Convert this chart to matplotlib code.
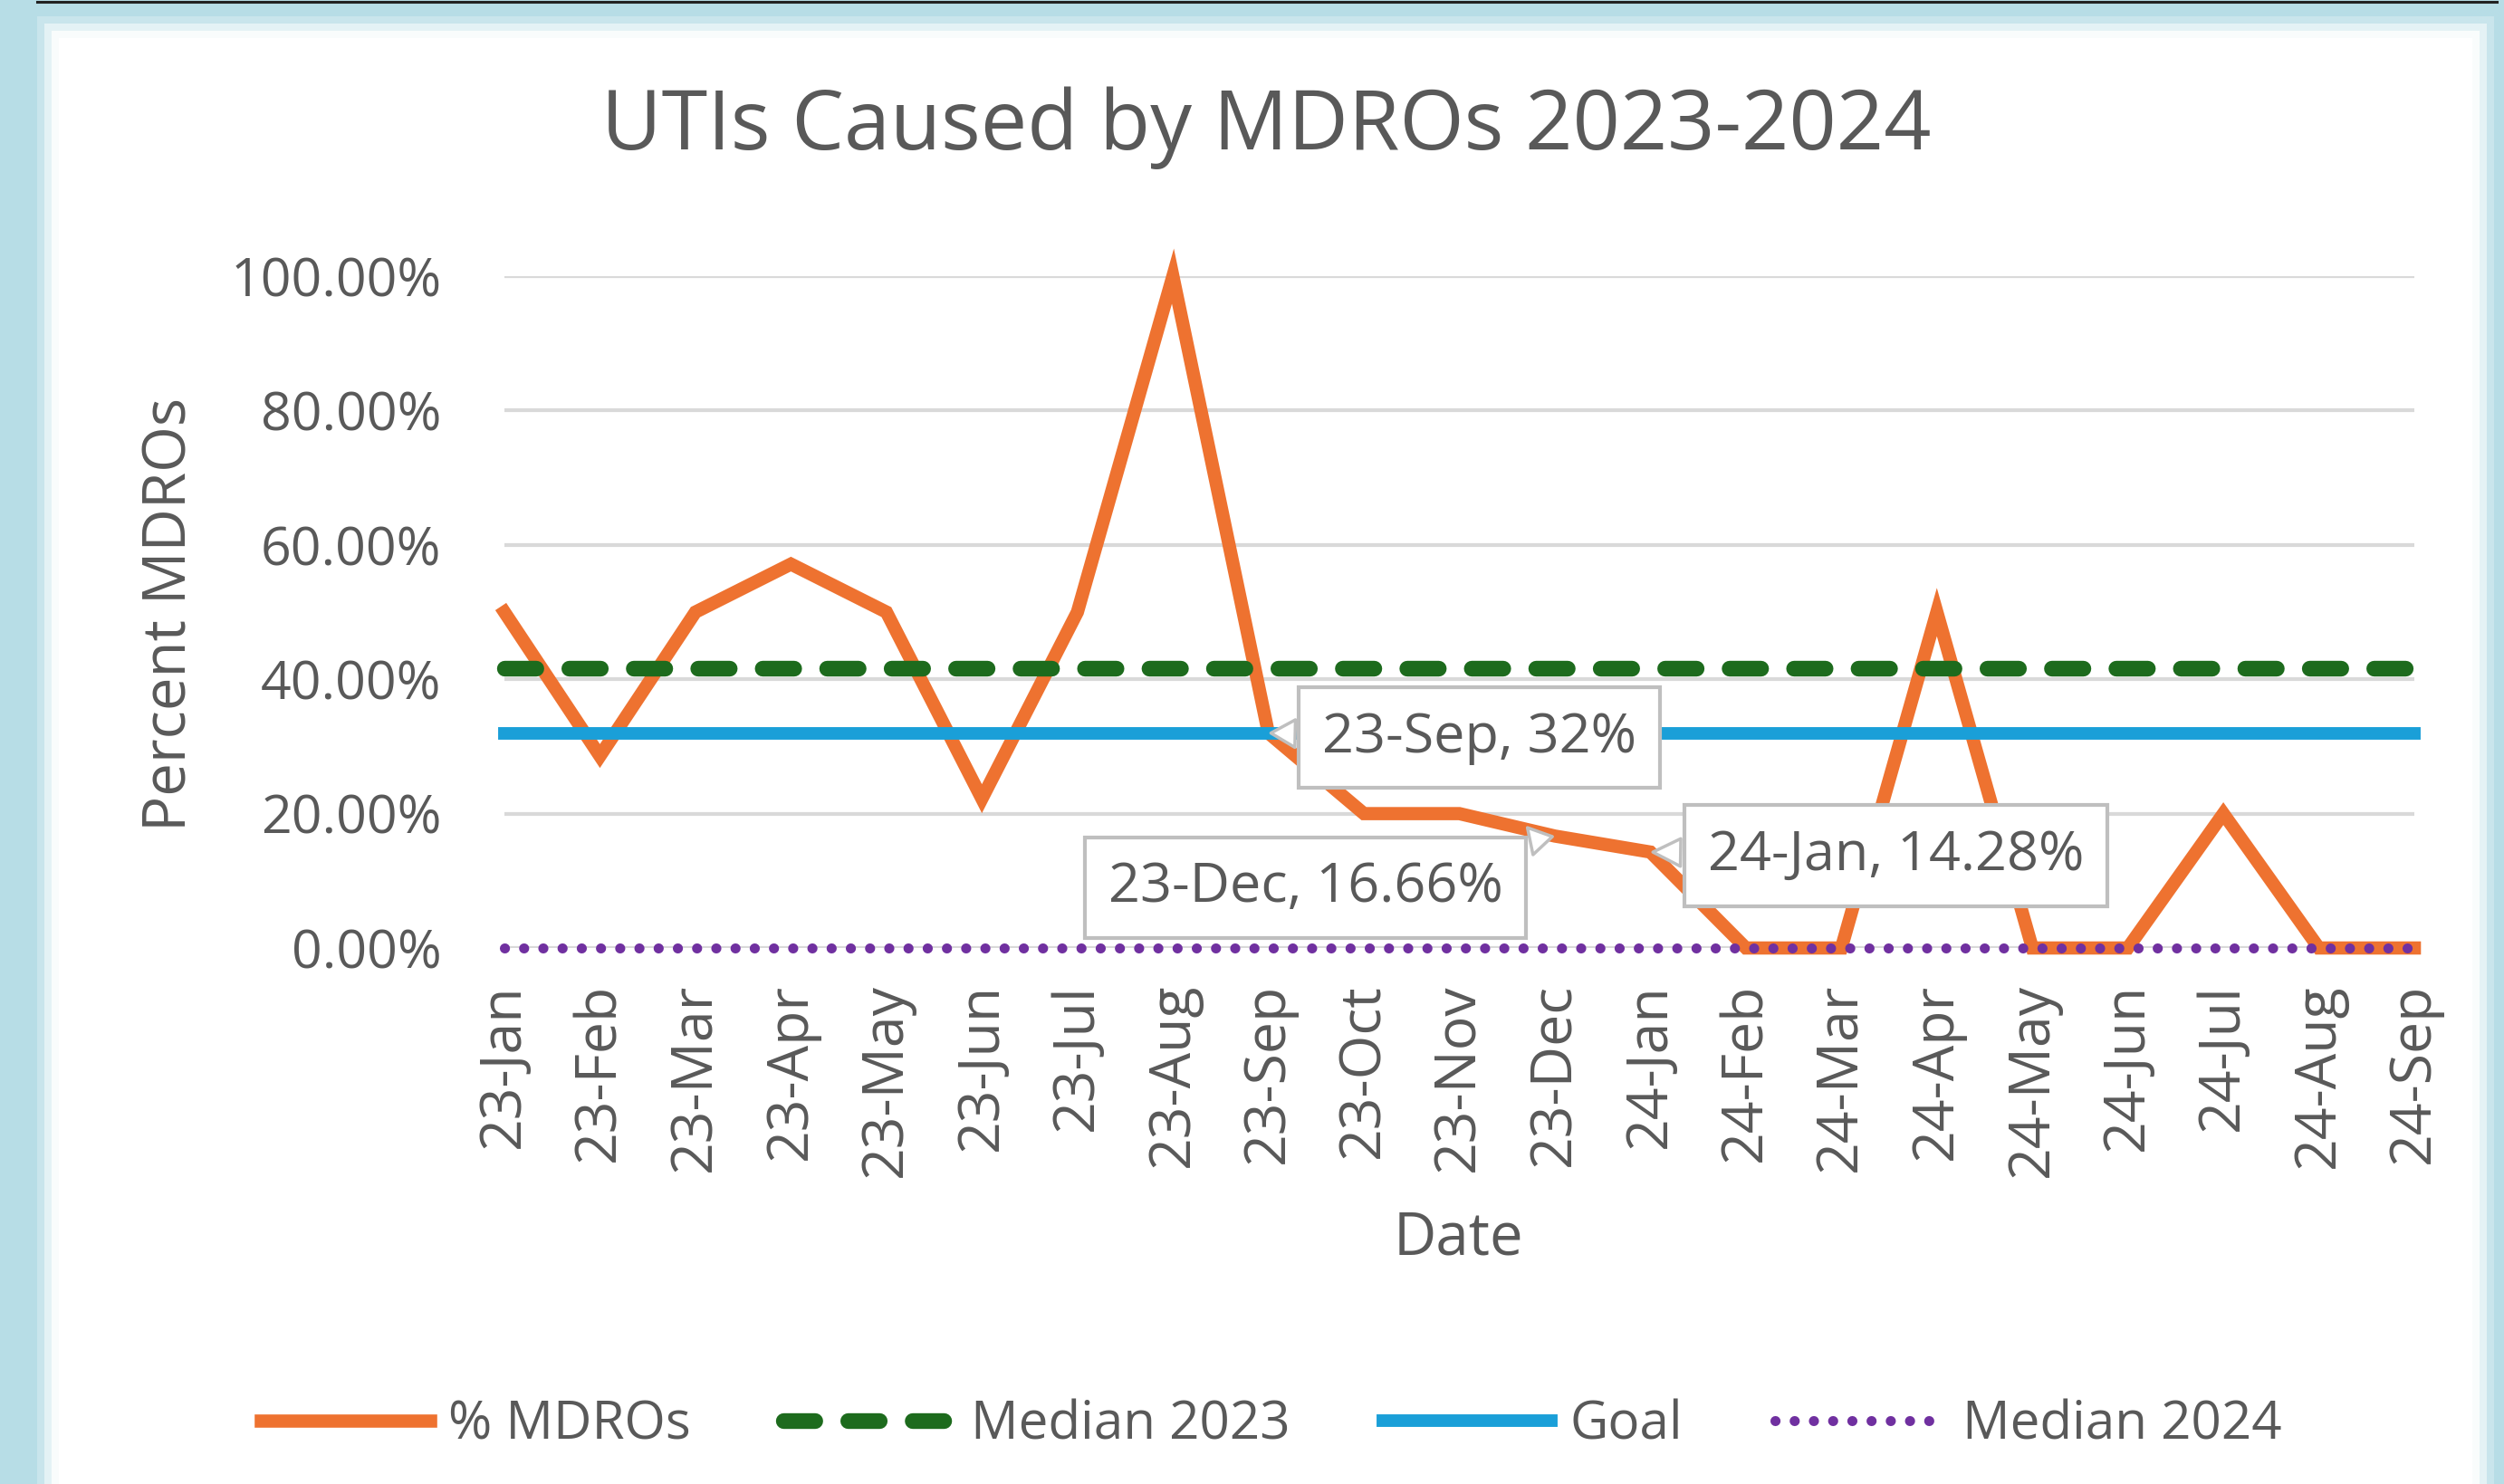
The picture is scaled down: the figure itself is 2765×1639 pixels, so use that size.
import numpy as np
import matplotlib
matplotlib.use("Agg")
import matplotlib.pyplot as plt
from matplotlib.patches import Rectangle
from matplotlib.lines import Line2D

# Data
months = ["23-Jan", "23-Feb", "23-Mar", "23-Apr", "23-May", "23-Jun", "23-Jul",
          "23-Aug", "23-Sep", "23-Oct", "23-Nov", "23-Dec", "24-Jan", "24-Feb",
          "24-Mar", "24-Apr", "24-May", "24-Jun", "24-Jul", "24-Aug", "24-Sep"]
pct_mdro = [50, 28.57, 50, 57.14, 50, 22.22, 50, 100, 32, 20, 20, 16.66, 14.28,
            0, 0, 50, 0, 0, 20, 0, 0]
median_2023 = [41.7] * len(months)
goal = [32] * len(months)
median_2024 = [0] * len(months)

# labelled points: (index, text, text offset in pixels)
callouts = [(8, "23-Sep, 32%", (233, -5)),
            (11, "23-Dec, 16.66%", (-275, -57)),
            (12, "24-Jan, 14.28%", (271, -4))]

W, H = 2765, 1639
plt.rcParams["font.family"] = ["Open Sans", "DejaVu Sans"]
txt = "#595959"

fig = plt.figure(figsize=(W / 100, H / 100), dpi=100, facecolor="#B7DDE6")

# white chart panel with a soft edge
for i, a in enumerate([0.25, 0.5, 0.8]):
    d = (3 - i) * 8
    fig.patches.append(Rectangle(((65 - d) / W, 0), (2665 + 2 * d) / W, (1597 + d) / H,
                                 transform=fig.transFigure, fc="white", ec="none",
                                 alpha=a, zorder=-2))
fig.patches.append(Rectangle((65 / W, 0), 2665 / W, 1597 / H, transform=fig.transFigure,
                             fc="white", ec="none", zorder=-1))
fig.lines.append(Line2D([41 / W, 2757 / W], [1 - 1.5 / H, 1 - 1.5 / H],
                        transform=fig.transFigure, color="#222222", lw=2.2, zorder=-1))

ax = fig.add_axes([557 / W, 1 - 1047 / H, (2666 - 557) / W, (1047 - 305) / H])
ax.set_facecolor("none")
x = np.arange(len(months))

ax.plot(x, pct_mdro, color="#EE7230", lw=10.5, solid_joinstyle="miter",
        label="% MDROs", zorder=3, clip_on=False)
ax.plot(x, median_2023, color="#1D6B1D", lw=12.5, linestyle=(0, (2.0, 2.1)),
        dash_capstyle="round", label="Median 2023", zorder=4, clip_on=False)
ax.plot(x, goal, color="#1A9FD8", lw=10, label="Goal", zorder=5, clip_on=False)
ax.plot(x, median_2024, color="#7030A0", lw=8, linestyle=(0, (0.01, 1.9)),
        dash_capstyle="round", label="Median 2024", zorder=6, clip_on=False)

ax.set_xlim(0, len(months) - 1)
ax.set_ylim(0, 100)
ax.set_yticks([0, 20, 40, 60, 80, 100])
ax.set_yticklabels([f"{v:.2f}%" for v in [0, 20, 40, 60, 80, 100]])
ax.set_xticks(x)
ax.set_xticklabels(months, rotation=90)
ax.grid(axis="y", color="#D9D9D9", lw=3, zorder=1)
ax.set_axisbelow(True)
for s in ax.spines.values():
    s.set_visible(False)
ax.tick_params(axis="y", length=0, pad=50, labelsize=42.5, labelcolor=txt)
ax.tick_params(axis="x", length=0, pad=28, labelsize=45, labelcolor=txt)

for i, label, off in callouts:
    ax.annotate(label, xy=(x[i], pct_mdro[i]), xytext=off, textcoords="offset pixels",
                ha="center", va="center", fontsize=44, color=txt, zorder=10,
                bbox=dict(boxstyle="square,pad=0.42", fc="white", ec="#BFBFBF", lw=3),
                arrowprops=dict(arrowstyle="wedge,tail_width=0.5,shrink_factor=0.5",
                                fc="white", ec="#BFBFBF", lw=2.5))

fig.text(1398 / W, 1 - 141 / H, "UTIs Caused by MDROs 2023-2024", ha="center",
         va="center", fontsize=66, color=txt)
fig.text(1610 / W, 1 - 1368 / H, "Date", ha="center", va="center", fontsize=47, color=txt)
fig.text(189 / W, 1 - 679 / H, "Percent MDROs", ha="center", va="center",
         rotation=90, fontsize=47, color=txt)

fig.legend(loc="center", bbox_to_anchor=(1404 / W, 1 - 1574 / H), ncol=4, frameon=False,
           fontsize=42, handlelength=3.2, handletextpad=0.35, columnspacing=1.75,
           labelcolor=txt)

fig.savefig("out.png", dpi=100, facecolor=fig.get_facecolor())
